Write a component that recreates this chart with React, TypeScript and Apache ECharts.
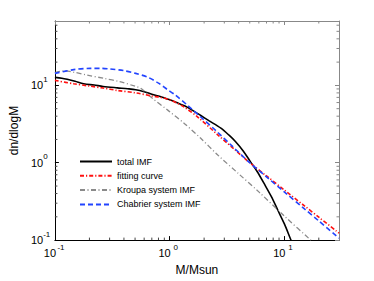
import React, { useEffect, useRef } from 'react';
import * as echarts from 'echarts';

const FONT = 'Liberation Sans, Arial, Helvetica, sans-serif';

const legendNames = ['total IMF', 'fitting curve', 'Kroupa system IMF', 'Chabrier system IMF'];

const xRange = [0.1, 30];
const yRange = [0.1, 68];

const totalMass = [0.1, 0.115, 0.128, 0.15, 0.178, 0.22, 0.263, 0.35, 0.43, 0.506, 0.6, 0.7, 0.85, 0.975, 1.15, 1.35, 1.6, 1.87, 2.2, 2.8, 3.3, 3.75, 4.4, 5.03, 5.8, 6.76, 7.7, 8.77, 10, 11.2, 12.5];
const totalValue = [12.7, 12.4, 12.0, 11.3, 10.5, 10.1, 9.7, 9.3, 9.05, 8.8, 8.3, 7.7, 7.1, 6.6, 6.0, 5.45, 4.72, 4.08, 3.5, 2.8, 2.27, 1.88, 1.41, 1.05, 0.77, 0.52, 0.367, 0.245, 0.163, 0.108, 0.072];

const fitMass = [0.1, 0.146, 0.2, 0.263, 0.35, 0.506, 0.7, 0.855, 1.0, 1.15, 1.35, 1.76, 2.6, 3.75, 5, 7, 10, 15, 20, 30];
const fitValue = [11.6, 10.5, 9.8, 9.25, 8.6, 8.0, 7.3, 6.95, 6.5, 5.95, 5.2, 3.9, 2.33, 1.45, 1.0, 0.675, 0.444, 0.277, 0.198, 0.123];

const kroupaMass = [0.1, 0.12, 0.15, 0.19, 0.27, 0.366, 0.506, 0.56, 0.7, 0.975, 1.35, 1.87, 2.6, 4, 6, 10, 17, 22];
const kroupaValue = [14.6, 15.4, 14.7, 13.6, 12.3, 11.2, 9.7, 9.2, 6.9, 4.72, 3.2, 2.07, 1.28, 0.72, 0.42, 0.205, 0.1, 0.07];

const chabrierMass = [0.1, 0.146, 0.203, 0.25, 0.3, 0.4, 0.506, 0.65, 0.8, 0.95, 1.11, 1.45, 1.87, 2.6, 3.5, 5, 7, 10, 15, 20, 30];
const chabrierValue = [14.3, 16.0, 16.6, 16.6, 16.3, 15.5, 14.3, 12.7, 10.7, 8.9, 7.6, 5.45, 3.9, 2.51, 1.65, 1.0, 0.657, 0.42, 0.253, 0.177, 0.106];

const xMinorTicks = [0.2, 0.3, 0.4, 0.5, 0.6, 0.7, 0.8, 0.9, 2, 3, 4, 5, 6, 7, 8, 9, 20];
const yMinorTicks = [0.2, 0.3, 0.4, 0.5, 0.6, 0.7, 0.8, 0.9, 2, 3, 4, 5, 6, 7, 8, 9, 20, 30, 40, 50, 60];

const zip = (a: number[], b: number[]) => a.map((v, i) => [v, b[i]]);

const powLabel = (v: number) => {
  const l = Math.log10(v);
  const e = Math.round(l);
  if (Math.abs(l - e) > 1e-6) return '';
  return `{b|10}{s|${e}}`;
};

const richY = {
  b: { fontSize: 11, fontFamily: FONT, color: '#000', height: 12, lineHeight: 24, verticalAlign: 'middle' },
  s: { fontSize: 8, fontFamily: FONT, color: '#000', height: 12, lineHeight: 12, verticalAlign: 'top' },
};
const richX = {
  b: { fontSize: 11, fontFamily: FONT, color: '#000', height: 12, lineHeight: 24, verticalAlign: 'middle' },
  s: { fontSize: 8, fontFamily: FONT, color: '#000', height: 12, lineHeight: 12, verticalAlign: 'top', width: 10, align: 'left' },
};

export default function App() {
  const ref = useRef<HTMLDivElement>(null);
  useEffect(() => {
    document.body.style.margin = '0';
    if (!ref.current) return;
    const chart = echarts.init(ref.current, null, { renderer: 'svg' });
    const minorX = (params: any, api: any) => {
      const v = api.value(0);
      const b = api.coord([v, yRange[0]]);
      const t = api.coord([v, yRange[1]]);
      return {
        type: 'group',
        children: [
          { type: 'line', shape: { x1: b[0], y1: b[1], x2: b[0], y2: b[1] - 2.5 }, style: { stroke: '#444', lineWidth: 1 } },
          { type: 'line', shape: { x1: t[0], y1: t[1], x2: t[0], y2: t[1] + 2.5 }, style: { stroke: '#888', lineWidth: 1 } },
        ],
      };
    };
    const minorY = (params: any, api: any) => {
      const v = api.value(1);
      const l = api.coord([xRange[0], v]);
      const r = api.coord([xRange[1], v]);
      return {
        type: 'group',
        children: [
          { type: 'line', shape: { x1: l[0], y1: l[1], x2: l[0] + 2.5, y2: l[1] }, style: { stroke: '#444', lineWidth: 1 } },
          { type: 'line', shape: { x1: r[0], y1: r[1], x2: r[0] - 2.5, y2: r[1] }, style: { stroke: '#888', lineWidth: 1 } },
        ],
      };
    };
    const baseX = { type: 'log', logBase: 10, min: xRange[0], max: xRange[1], splitLine: { show: false } };
    const baseY = { type: 'log', logBase: 10, min: yRange[0], max: yRange[1], splitLine: { show: false } };
    chart.setOption({
      animation: false,
      backgroundColor: '#fff',
      grid: { left: 49, right: 35, top: 21, bottom: 34, containLabel: false },
      legend: {
        data: legendNames,
        orient: 'vertical',
        left: 79,
        top: 157,
        padding: 0,
        itemWidth: 32,
        itemHeight: 10,
        itemGap: 5.3,
        itemStyle: { opacity: 0 },
        textStyle: { fontSize: 9, color: '#000', fontFamily: FONT },
      },
      xAxis: [
        {
          ...baseX,
          position: 'bottom',
          name: 'M/Msun',
          nameLocation: 'middle',
          nameGap: 20,
          nameTextStyle: { fontSize: 12, color: '#000', fontFamily: FONT },
          axisLine: { lineStyle: { color: '#000', width: 1 } },
          axisTick: { inside: true, length: 4, lineStyle: { color: '#000' } },
          axisLabel: { formatter: powLabel, rich: richX, margin: 1, showMaxLabel: false },
        },
        {
          ...baseX,
          position: 'top',
          axisLine: { lineStyle: { color: '#888', width: 1 } },
          axisTick: { inside: true, length: 4, lineStyle: { color: '#888' } },
          axisLabel: { show: false },
        },
      ],
      yAxis: [
        {
          ...baseY,
          position: 'left',
          name: 'dn/dlogM',
          nameLocation: 'middle',
          nameGap: 29,
          nameTextStyle: { fontSize: 12, color: '#000', fontFamily: FONT },
          axisLine: { lineStyle: { color: '#000', width: 1 } },
          axisTick: { inside: true, length: 4, lineStyle: { color: '#000' } },
          axisLabel: { formatter: powLabel, rich: richY, margin: 24, align: 'left', showMaxLabel: false },
        },
        {
          ...baseY,
          position: 'right',
          axisLine: { lineStyle: { color: '#888', width: 1 } },
          axisTick: { inside: true, length: 4, lineStyle: { color: '#888' } },
          axisLabel: { show: false },
        },
      ],
      series: [
        {
          name: legendNames[0], type: 'line', data: zip(totalMass, totalValue), symbol: 'none', smooth: 0.3,
          lineStyle: { color: '#000', width: 1.6, type: 'solid' }, itemStyle: { color: '#000' }, z: 3,
        },
        {
          name: legendNames[1], type: 'line', data: zip(fitMass, fitValue), symbol: 'none', smooth: 0.3,
          lineStyle: { color: '#ff1010', width: 1.6, type: [4, 2, 1.2, 2] }, itemStyle: { color: '#ff1010' }, z: 4,
        },
        {
          name: legendNames[2], type: 'line', data: zip(kroupaMass, kroupaValue), symbol: 'none', smooth: 0.3,
          lineStyle: { color: '#8a8a8a', width: 1.3, type: [5, 2.5, 1, 2.5] }, itemStyle: { color: '#8a8a8a' }, z: 3,
        },
        {
          name: legendNames[3], type: 'line', data: zip(chabrierMass, chabrierValue), symbol: 'none', smooth: 0.3,
          lineStyle: { color: '#2244ff', width: 1.6, type: [5, 3] }, itemStyle: { color: '#2244ff' }, z: 5,
        },
        {
          name: 'xMinor', type: 'custom', silent: true, clip: false, z: 6,
          data: xMinorTicks.map((v) => [v, yRange[0]]),
          renderItem: minorX,
        },
        {
          name: 'yMinor', type: 'custom', silent: true, clip: false, z: 6,
          data: yMinorTicks.map((v) => [xRange[0], v]),
          renderItem: minorY,
        },
      ],
    });
    return () => chart.dispose();
  }, []);
  return <div ref={ref} style={{ position: 'fixed', left: 0, top: 0, width: 374, height: 281 }} />;
}
